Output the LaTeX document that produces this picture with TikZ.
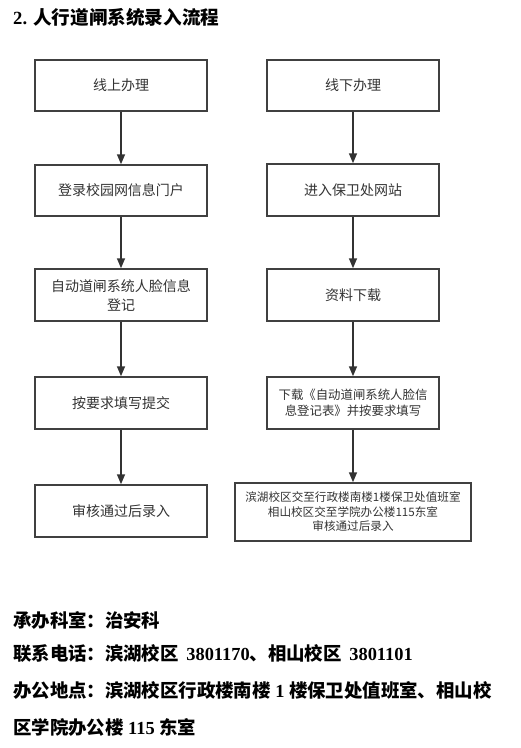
\documentclass[tikz,border=0pt]{standalone}
\usepackage{fontspec}
\newfontfamily\cjk{Noto Sans CJK SC}
\newfontfamily\serifl{Liberation Serif}
\usetikzlibrary{arrows.meta}
\definecolor{boxline}{HTML}{404040}
\definecolor{boxtext}{HTML}{333333}
\definecolor{arrowc}{HTML}{333333}
\tikzset{
  flowbox/.style={draw=boxline, line width=1.5pt, fill=white, inner sep=0pt, align=center,
    text=boxtext, font=\cjk\fontsize{14}{19}\selectfont},
  lbox/.style={flowbox, minimum width=172pt, minimum height=51pt},
  rbox/.style={flowbox, minimum width=172pt, minimum height=51pt},
  flowarrow/.style={draw=arrowc, line width=1.5pt, -{Triangle[length=10pt,width=8pt]}},
  infoline/.style={anchor=base west, inner sep=0pt, font=\cjk\bfseries\fontsize{18.4}{22}\selectfont},
}
\begin{document}
\begin{tikzpicture}[x=1pt,y=1pt]
\useasboundingbox (0,0) rectangle (521,-748);
% title
\node[anchor=base west, inner sep=0pt] (title) at (13,-24)
  {\fontsize{18.6}{22}\selectfont{\serifl\bfseries 2. }\cjk\bfseries 人行道闸系统录入流程};
% left column
\node[lbox] (l1) at (121,-85.5) {线上办理};
\node[lbox] (l2) at (121,-190.5) {登录校园网信息门户};
\node[lbox, minimum height=52pt] (l3) at (121,-295) {自动道闸系统人脸信息\\登记};
\node[lbox, minimum height=52pt] (l4) at (121,-403) {按要求填写提交};
\node[lbox, minimum height=52pt] (l5) at (121,-511) {审核通过后录入};
% right column
\node[rbox] (r1) at (353,-85.5) {线下办理};
\node[rbox, minimum height=52pt] (r2) at (353,-190) {进入保卫处网站};
\node[rbox, minimum height=52pt] (r3) at (353,-295) {资料下载};
\node[rbox, minimum height=52pt, font=\cjk\fontsize{12.4}{16}\selectfont] (r4) at (353,-403)
  {下载《自动道闸系统人脸信\\息登记表》并按要求填写};
\node[flowbox, minimum width=236pt, minimum height=58pt, font=\cjk\fontsize{11.6}{14.5}\selectfont] (r5) at (353,-512)
  {滨湖校区交至行政楼南楼1楼保卫处值班室\\相山校区交至学院办公楼115东室\\审核通过后录入};
% arrows
\draw[flowarrow] (l1) -- (l2);
\draw[flowarrow] (l2) -- (l3);
\draw[flowarrow] (l3) -- (l4);
\draw[flowarrow] (l4) -- (l5);
\draw[flowarrow] (r1) -- (r2);
\draw[flowarrow] (r2) -- (r3);
\draw[flowarrow] (r3) -- (r4);
\draw[flowarrow] (r4) -- (r5);
% info text
\node[infoline] (i1) at (13,-627) {承办科室：治安科};
\node[infoline] (i2) at (13,-660) {联系电话：滨湖校区{\serifl\bfseries\ \hspace{3pt}3801170}、相山校区{\serifl\bfseries\ \hspace{3pt}3801101}};
\node[infoline] (i3) at (13,-697) {办公地点：滨湖校区行政楼南楼{\serifl\bfseries\ 1\ }楼保卫处值班室、相山校};
\node[infoline] (i4) at (13,-734) {区学院办公楼{\serifl\bfseries\ 115\ }东室};
\end{tikzpicture}
\end{document}
